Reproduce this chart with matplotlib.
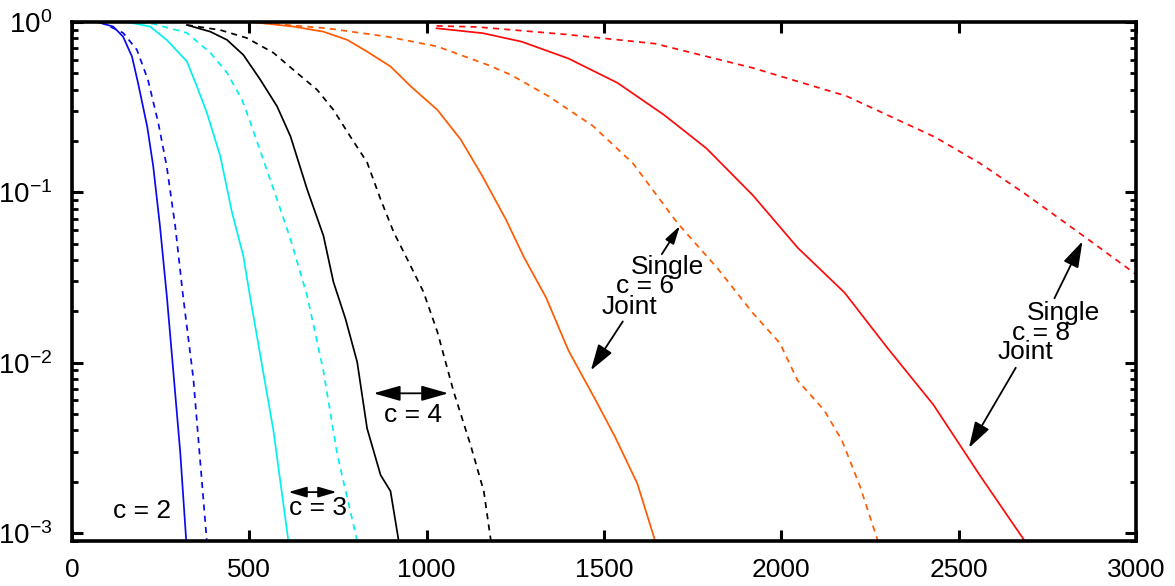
import matplotlib
matplotlib.use("Agg")
import matplotlib.pyplot as plt
from matplotlib.ticker import LogLocator, FixedLocator, NullLocator

plt.rcParams['font.family'] = ['Liberation Sans', 'DejaVu Sans']
plt.rcParams['mathtext.fontset'] = 'custom'
plt.rcParams['mathtext.rm'] = 'Liberation Sans'
plt.rcParams['mathtext.it'] = 'Liberation Sans'
plt.rcParams['axes.unicode_minus'] = False

# ---------------- data ----------------
c2_joint_x = [70, 116, 144, 169, 186, 212, 229, 248, 268, 305, 322]
c2_joint_y = [1.0, 0.94, 0.82, 0.627, 0.44, 0.243, 0.142, 0.0632, 0.0237, 0.0030, 0.0009]
c2_single_x = [80, 144, 183, 214, 243, 267, 291, 313, 342, 380]
c2_single_y = [1.0, 0.863, 0.686, 0.458, 0.257, 0.142, 0.0632, 0.0247, 0.0081, 0.0009]

c3_joint_x = [154, 220, 267, 324, 352, 380, 418, 451, 483, 503, 568, 610]
c3_joint_y = [1.0, 0.94, 0.785, 0.586, 0.419, 0.294, 0.163, 0.0764, 0.0423, 0.0237, 0.00398, 0.0009]
c3_single_x = [160, 229, 324, 390, 437, 479, 503, 539, 578, 616, 663, 709, 748, 804]
c3_single_y = [1.0, 0.975, 0.863, 0.659, 0.504, 0.35, 0.257, 0.156, 0.091, 0.0531, 0.0247, 0.0089, 0.00288, 0.0009]

c4_joint_x = [324, 390, 437, 483, 531, 578, 616, 663, 709, 737, 771, 804, 832, 870, 898, 921]
c4_joint_y = [0.96, 0.877, 0.785, 0.641, 0.458, 0.32, 0.213, 0.104, 0.0555, 0.0298, 0.0181, 0.0101, 0.00411, 0.00219, 0.00176, 0.0009]
c4_single_x = [324, 418, 493, 568, 624, 691, 737, 785, 832, 870, 907, 945, 991, 1030, 1076, 1124, 1161, 1181]
c4_single_y = [0.96, 0.897, 0.805, 0.659, 0.524, 0.4, 0.305, 0.212, 0.15, 0.091, 0.0583, 0.0406, 0.026, 0.0152, 0.00676, 0.00327, 0.00176, 0.0009]

c6_joint_x = [505, 624, 709, 776, 832, 898, 955, 1030, 1096, 1157, 1223, 1274, 1337, 1400, 1475, 1531, 1594, 1644]
c6_joint_y = [1.0, 0.94, 0.877, 0.785, 0.67, 0.548, 0.419, 0.305, 0.204, 0.1245, 0.0695, 0.0417, 0.024, 0.01175, 0.0061, 0.00367, 0.00195, 0.0009]
c6_single_x = [505, 719, 889, 1030, 1171, 1237, 1343, 1469, 1582, 1707, 1820, 1920, 1996, 2046, 2121, 2171, 2221, 2272]
c6_single_y = [1.0, 0.918, 0.82, 0.718, 0.561, 0.49, 0.367, 0.245, 0.1476, 0.066, 0.0358, 0.0195, 0.013, 0.00785, 0.00525, 0.00349, 0.0019, 0.0009]

c8_joint_x = [1028, 1159, 1268, 1400, 1538, 1669, 1789, 1920, 2046, 2178, 2297, 2429, 2561, 2686]
c8_joint_y = [0.918, 0.859, 0.766, 0.61, 0.439, 0.285, 0.181, 0.0959, 0.0473, 0.0258, 0.01236, 0.00565, 0.00216, 0.0009]
c8_single_x = [1028, 1142, 1393, 1644, 1920, 2184, 2435, 2561, 2686, 2861, 3000]
c8_single_y = [0.948, 0.935, 0.845, 0.746, 0.537, 0.367, 0.21, 0.1476, 0.0984, 0.0537, 0.033]

x_ticks = [0, 500, 1000, 1500, 2000, 2500, 3000]
y_ticks = [1e-3, 1e-2, 1e-1, 1e0]
y_tick_labels = [r'$\mathregular{10^{-3}}$', r'$\mathregular{10^{-2}}$',
                 r'$\mathregular{10^{-1}}$', r'$\mathregular{10^{0}}$']

series = [
    (c2_joint_x, c2_joint_y, c2_single_x, c2_single_y, '#0a0aee'),
    (c3_joint_x, c3_joint_y, c3_single_x, c3_single_y, '#00f0f0'),
    (c4_joint_x, c4_joint_y, c4_single_x, c4_single_y, '#000000'),
    (c6_joint_x, c6_joint_y, c6_single_x, c6_single_y, '#ff5a00'),
    (c8_joint_x, c8_joint_y, c8_single_x, c8_single_y, '#ff0a0a'),
]

# ---------------- figure ----------------
fig = plt.figure(figsize=(11.75, 5.86), dpi=100)
ax = fig.add_axes([0.0613, 0.0768, 0.9055, 0.8857])

for jx, jy, sx, sy, col in series:
    ax.plot(jx, jy, color=col, lw=1.25, solid_joinstyle='miter')
    ax.plot(sx, sy, color=col, lw=1.25, linestyle=(0, (3.5, 3)))

ax.set_yscale('log')
ax.set_xlim(0, 3000)
ax.set_ylim(10 ** -3.047, 1.0)

ax.xaxis.set_major_locator(FixedLocator(x_ticks))
ax.xaxis.set_minor_locator(NullLocator())
ax.set_xticklabels([str(v) for v in x_ticks])
ax.yaxis.set_major_locator(FixedLocator(y_ticks))
ax.set_yticklabels(y_tick_labels)
ax.yaxis.set_minor_locator(LogLocator(base=10, subs=range(2, 10)))

for s in ax.spines.values():
    s.set_linewidth(2.6)

ax.tick_params(axis='both', which='major', direction='in', length=8, width=2.2,
               labelsize=19, top=True, right=True, pad=10)
ax.tick_params(axis='y', which='minor', direction='in', length=4, width=2.0,
               left=True, right=True)
ax.tick_params(axis='x', which='major', pad=12)
ax.tick_params(axis='y', which='major', pad=14, labelsize=20)

fs = 19

def arrow(xy, xytext, style, hl, hw):
    ax.annotate('', xy=xy, xytext=xytext,
                arrowprops=dict(arrowstyle='%s,head_length=%g,head_width=%g' % (style, hl, hw),
                                color='black', lw=1.3, shrinkA=0, shrinkB=0,
                                mutation_scale=10))

# c = 2
ax.text(197, 10 ** -2.87, 'c = 2', fontsize=fs, ha='center', va='center')
# c = 3
arrow((746, 10 ** -2.76), (610, 10 ** -2.76), '<|-|>', 1.1, 0.32)
ax.text(694, 10 ** -2.855, 'c = 3', fontsize=fs, ha='center', va='center')
# c = 4
arrow((1061, 10 ** -2.18), (850, 10 ** -2.18), '<|-|>', 1.65, 0.47)
ax.text(962, 10 ** -2.31, 'c = 4', fontsize=fs, ha='center', va='center')
# c = 6
ax.text(1678, 10 ** -1.439, 'Single', fontsize=fs, ha='center', va='center')
ax.text(1616, 10 ** -1.55, 'c = 6', fontsize=fs, ha='center', va='center')
ax.text(1573, 10 ** -1.673, 'Joint', fontsize=fs, ha='center', va='center')
arrow((1714, 10 ** -1.197), (1663, 10 ** -1.363), '-|>', 1.1, 0.3)
arrow((1463, 10 ** -2.045), (1553, 10 ** -1.758), '-|>', 1.6, 0.5)
# c = 8
ax.text(2796, 10 ** -1.71, 'Single', fontsize=fs, ha='center', va='center')
ax.text(2733, 10 ** -1.826, 'c = 8', fontsize=fs, ha='center', va='center')
ax.text(2689, 10 ** -1.936, 'Joint', fontsize=fs, ha='center', va='center')
arrow((2849, 10 ** -1.288), (2770, 10 ** -1.622), '-|>', 1.6, 0.5)
arrow((2529, 10 ** -2.50), (2661, 10 ** -2.03), '-|>', 1.6, 0.5)

fig.savefig('out.png', dpi=100)
